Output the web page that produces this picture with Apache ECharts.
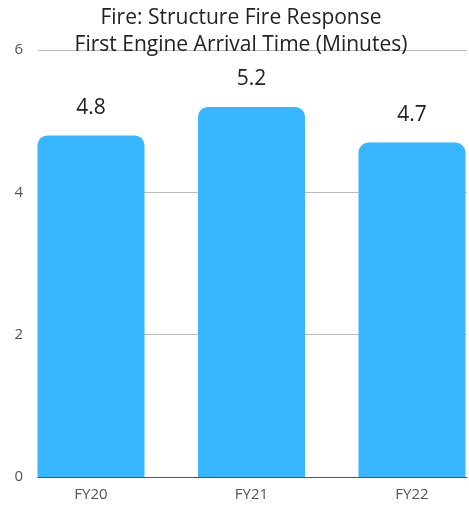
<!DOCTYPE html>
<html><head><meta charset="utf-8">
<script src="https://cdn.jsdelivr.net/npm/echarts@6/dist/echarts.min.js"></script>
<style>html,body{margin:0;padding:0;background:#fff}#c{width:469px;height:506px}</style>
</head><body><div id="c"></div>
<script>
const categories = ['FY20', 'FY21', 'FY22'];
const values = [4.8, 5.2, 4.7];
const yTicks = [0, 2, 4, 6];
const titleLines = ['Fire: Structure Fire Response', 'First Engine Arrival Time (Minutes)'];

const FONT = '"Open Sans", sans-serif';
const chart = echarts.init(document.getElementById('c'), null, {renderer: 'canvas'});
const yMin = yTicks[0], yMax = yTicks[yTicks.length - 1];
chart.setOption({
  animation: false,
  textStyle: {fontFamily: FONT},
  title: {
    text: titleLines.join('\n'),
    left: 236, top: 0, padding: [5, 5], textAlign: 'center',
    textStyle: {fontSize: 21, fontWeight: 'normal', color: '#222', lineHeight: 27, fontFamily: FONT}
  },
  grid: [
    {left: 38, right: 2, top: 50, bottom: 29, containLabel: false},
    {left: 91, right: 57, top: 50, bottom: 29, containLabel: false}
  ],
  xAxis: [
    {type: 'category', gridIndex: 0, data: categories,
     axisLine: {lineStyle: {color: '#555', width: 1}},
     axisTick: {show: false}, axisLabel: {show: false}},
    {type: 'category', gridIndex: 1, data: categories, boundaryGap: false,
     axisLine: {show: false}, axisTick: {show: false},
     axisLabel: {color: '#555', fontSize: 15, margin: 10, fontFamily: FONT}}
  ],
  yAxis: [
    {type: 'value', gridIndex: 0, min: yMin, max: yMax, interval: 2,
     axisLine: {show: false}, axisTick: {show: false},
     axisLabel: {color: '#555', fontSize: 15, margin: 15, fontFamily: FONT},
     splitLine: {lineStyle: {color: '#bbb', width: 1}}},
    {type: 'value', gridIndex: 1, min: yMin, max: yMax, interval: 2, show: false}
  ],
  series: [{
    type: 'bar', xAxisIndex: 1, yAxisIndex: 1, data: values, barWidth: 107,
    itemStyle: {color: '#38b6ff', borderRadius: [10, 10, 0, 0]},
    label: {show: true, position: 'top', distance: 17, fontSize: 21, color: '#222', fontFamily: FONT,
            formatter: p => p.value.toFixed(1)}
  }]
});
</script></body></html>
